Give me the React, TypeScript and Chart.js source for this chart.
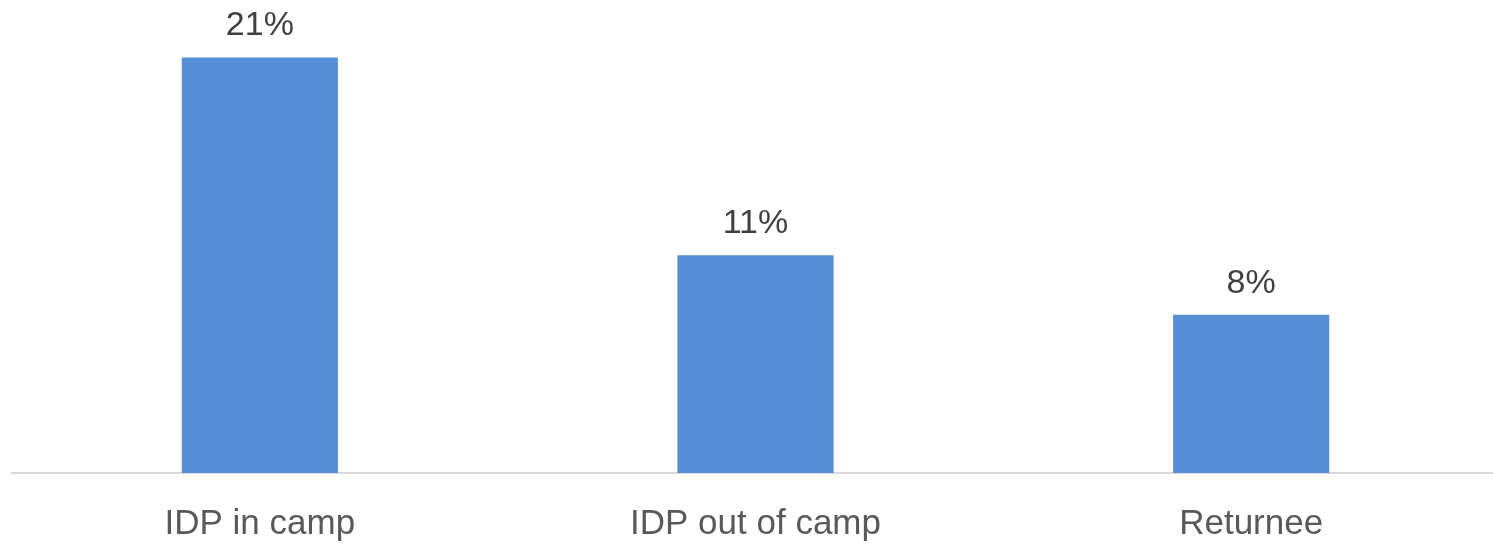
import React, { useEffect, useRef } from "react";
import { Chart, registerables } from "chart.js";

Chart.register(...registerables);

const categories = ["IDP in camp", "IDP out of camp", "Returnee"];
const values = [21, 11, 8];
const valueLabels = ["21%", "11%", "8%"];

const FONT = "'Liberation Sans', Arial, sans-serif";

const dataLabelPlugin = {
  id: "dataLabels",
  afterDatasetsDraw(chart: any) {
    const ctx = chart.ctx;
    const meta = chart.getDatasetMeta(0);
    ctx.save();
    ctx.font = `34px ${FONT}`;
    ctx.fillStyle = "#404040";
    ctx.textAlign = "center";
    ctx.textBaseline = "alphabetic";
    meta.data.forEach((bar: any, i: number) => {
      ctx.fillText(valueLabels[i], bar.x, bar.y - 22);
    });
    ctx.restore();
  },
};

export default function App() {
  const ref = useRef<HTMLCanvasElement>(null);
  useEffect(() => {
    if (!ref.current) return;
    const chart = new Chart(ref.current, {
      type: "bar",
      data: {
        labels: categories,
        datasets: [
          {
            data: values,
            backgroundColor: "#558ED5",
            barPercentage: 0.315,
            categoryPercentage: 1,
          },
        ],
      },
      options: {
        responsive: false,
        animation: false,
        devicePixelRatio: 1,
        layout: { padding: { left: 12, right: 0, top: 0, bottom: 0 } },
        plugins: { legend: { display: false }, tooltip: { enabled: false } },
        scales: {
          x: {
            grid: { display: false, drawTicks: false },
            border: { display: true, color: "#D9D9D9", width: 2 },
            ticks: {
              color: "#595959",
              font: { family: FONT, size: 35 },
              padding: 30,
            },
            afterFit: (scale: any) => {
              scale.height = 71;
            },
          },
          y: {
            display: false,
            min: 0,
            max: 23.9,
          },
        },
      },
      plugins: [dataLabelPlugin],
    });
    return () => chart.destroy();
  }, []);
  return (
    <div
      style={{
        position: "fixed",
        left: 0,
        top: 0,
        width: 1493,
        height: 544,
        overflow: "hidden",
        background: "#fff",
      }}
    >
      <canvas ref={ref} width={1499} height={544} style={{ display: "block" }} />
    </div>
  );
}
